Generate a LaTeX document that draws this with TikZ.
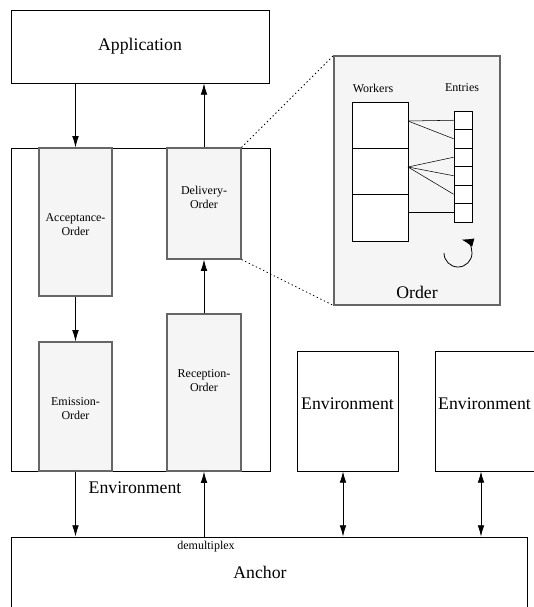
\documentclass[tikz,border=0pt]{standalone}
\usepackage{fontspec}
\setmainfont{Liberation Serif}
\usetikzlibrary{fit,arrows.meta}

\begin{document}
\begin{tikzpicture}[x=0.75pt,y=0.75pt,yscale=-1,xscale=1,
  box/.style={draw, line width=0.6pt, inner sep=0pt},
  orderbox/.style={box, draw=black!60, line width=0.8pt, fill=black!4},
  big/.style={font=\fontsize{13.3}{15}\selectfont},
  small/.style={font=\fontsize{9}{10.5}\selectfont, align=center},
  arr/.style={line width=0.6pt, -{Latex[length=8.5pt,width=5pt]}},
  arrboth/.style={line width=0.6pt, {Latex[length=8.5pt,width=5pt]}-{Latex[length=8.5pt,width=5pt]}}]

\clip (0,0) rectangle (534,607);

% application and environment
\node (app) [box, fit={(11,10) (269,83)}] {};
\draw (app.center) node [big] {Application};

\node (env) [box, fit={(11,148) (270,471)}] {};
\draw (135,488) node [big] {Environment};

% orders inside the environment
\node (acc) [orderbox, fit={(39,148) (112,296)}] {};
\node (emi) [orderbox, fit={(39,342) (112,471)}] {};
\node (del) [orderbox, fit={(167,148) (241,259)}] {};
\node (rec) [orderbox, fit={(167,314) (241,471)}] {};
\draw (75.5,225) node [small] {Acceptance-\\Order};
\draw (75.5,409) node [small] {Emission-\\Order};
\draw (204,197) node [small] {Delivery-\\Order};
\draw (204,381) node [small] {Reception-\\Order};

% detail of an order
\node (ord) [orderbox, fit={(334,56) (500,305)}] {};
\draw (417,292) node [big] {Order};
\draw (373,88) node [small] {Workers};
\draw (462,88) node [small] {Entries};
\node (wk1) [box, fill=white, fit={(352,102) (408,148)}] {};
\node (wk2) [box, fill=white, fit={(352,148) (408,194)}] {};
\node (wk3) [box, fill=white, fit={(352,194) (408,241)}] {};
\foreach \i in {1,...,6}
  \node (ent\i) [box, fill=white, fit={(454,{111+(\i-1)*18.5}) (472,{111+\i*18.5})}] {};
\coordinate (w1) at (408,121);
\coordinate (w2) at (408,167);
\draw (w1) -- (ent1.west);
\draw (w1) -- (ent2.west);
\draw (w2) -- (ent3.west);
\draw (w2) -- (ent4.west);
\draw (w2) -- (ent5.west);
\draw (wk3.east |- ent6.west) -- (ent6.west);
\draw [line width=0.6pt, -{Latex[length=9pt,width=6.5pt]}] (444,253) arc [start angle=180, end angle=-75, radius=14];

% zoom lines
\draw [dash pattern=on 1pt off 2pt, line width=0.6pt] (del.north east) -- (ord.north west);
\draw [dash pattern=on 1pt off 2pt, line width=0.6pt] (del.south east) -- (ord.south west);

% other environments and anchor
\node (env2) [box, fit={(297,351) (398,471)}] {};
\draw (347.5,404) node [big] {Environment};
\node (env3) [box, fit={(435,351) (545,471)}] {};
\draw (484.5,404) node [big] {Environment};

\node (anc) [box, fit={(11,537) (527,620)}] {};
\draw (260,572) node [big] {Anchor};
\node (dmx) [small, anchor=north] at (206,536) {demultiplex};

% connectors
\draw [arr] (app.south -| acc) -- (acc.north);
\draw [arr] (del.north) -- (del.north |- app.south);
\draw [arr] (acc.south) -- (emi.north);
\draw [arr] (rec.north) -- (del.south);
\draw [arr] (emi.south) -- (emi.south |- anc.north);
\draw [arr] (anc.north -| rec) -- (rec.south);
\draw [arrboth] (env2.south -| 343,0) -- (anc.north -| 343,0);
\draw [arrboth] (env3.south -| 481,0) -- (anc.north -| 481,0);

\end{tikzpicture}
\end{document}
